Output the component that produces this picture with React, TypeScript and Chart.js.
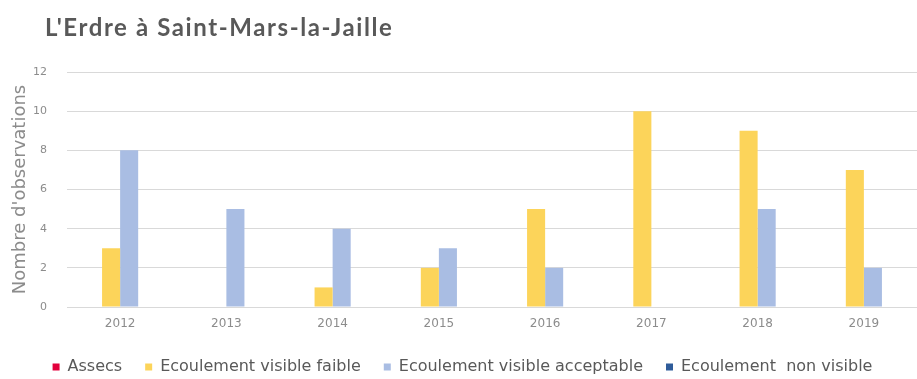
import React, { useEffect, useRef } from "react";
import { Chart, registerables } from "chart.js";

Chart.register(...registerables);

const TITLE = "L'Erdre à Saint-Mars-la-Jaille";
const Y_TITLE = "Nombre d'observations";
const YEARS = ["2012", "2013", "2014", "2015", "2016", "2017", "2018", "2019"];
const SERIES_NAMES = [
  "Assecs",
  "Ecoulement visible faible",
  "Ecoulement visible acceptable",
  "Ecoulement  non visible",
];
const ASSECS = [0, 0, 0, 0, 0, 0, 0, 0];
const FAIBLE = [3, 0, 1, 2, 5, 10, 9, 7];
const ACCEPTABLE = [8, 5, 4, 3, 2, 0, 5, 2];
const NON_VISIBLE = [0, 0, 0, 0, 0, 0, 0, 0];
const COLORS = ["#E2003C", "#FCD45A", "#A9BDE3", "#2F5C9A"];

const FONT = "'DejaVu Sans', sans-serif";
const PAD_BOTTOM = -6;
const PLOT_BOTTOM = 307;

const titlePlugin = {
  id: "customTitle",
  afterDraw(chart: any) {
    const ctx = chart.ctx;
    ctx.save();
    ctx.font = "bold 24px Lato, 'DejaVu Sans', sans-serif";
    try {
      (ctx as any).letterSpacing = "1.6px";
    } catch (e) {}
    ctx.fillStyle = "#595959";
    ctx.textBaseline = "alphabetic";
    ctx.textAlign = "left";
    ctx.fillText(TITLE, 45, 36);
    ctx.restore();
  },
};

export default function App() {
  const ref = useRef<HTMLCanvasElement>(null);
  useEffect(() => {
    if (!ref.current) return;
    const data = [ASSECS, FAIBLE, ACCEPTABLE, NON_VISIBLE];
    const chart = new Chart(ref.current, {
      type: "bar",
      data: {
        labels: YEARS,
        datasets: SERIES_NAMES.map((name, i) => ({
          label: name,
          data: data[i],
          backgroundColor: COLORS[i],
          borderWidth: 0,
          categoryPercentage: 0.68,
          barPercentage: 1.0,
        })),
      },
      options: {
        responsive: false,
        animation: false,
        devicePixelRatio: 1,
        layout: { padding: { top: 72, left: 8, right: 0, bottom: PAD_BOTTOM } },
        plugins: {
          title: { display: false },
          tooltip: { enabled: false },
          legend: {
            position: "bottom",
            labels: {
              boxWidth: 7,
              boxHeight: 7,
              padding: 23,
              color: "#595959",
              font: { family: FONT, size: 16 },
            },
          },
        },
        scales: {
          x: {
            afterFit: (scale: any) => {
              const lh = scale.chart.legend ? scale.chart.legend.height : 49;
              scale.height = scale.chart.height - PAD_BOTTOM - lh - PLOT_BOTTOM;
            },
            grid: { display: false, drawTicks: false },
            border: { display: true, color: "#d9d9d9" },
            ticks: { color: "#8c8c8c", font: { family: FONT, size: 12 }, padding: 10 },
          },
          y: {
            min: 0,
            max: 12,
            afterFit: (scale: any) => {
              scale.width = 59;
            },
            ticks: { stepSize: 2, color: "#8c8c8c", font: { family: FONT, size: 11 }, padding: 20 },
            grid: { color: "#d9d9d9", drawTicks: false },
            border: { display: false },
            title: {
              display: true,
              text: Y_TITLE,
              color: "#8c8c8c",
              font: { family: FONT, size: 18 },
              padding: { top: 2, bottom: 0 },
            },
          },
        },
      },
      plugins: [titlePlugin],
    });
    return () => chart.destroy();
  }, []);
  return (
    <div style={{ position: "fixed", left: 0, top: 0, width: 917, height: 379, background: "#fff" }}>
      <canvas ref={ref} width={917} height={379} />
    </div>
  );
}
